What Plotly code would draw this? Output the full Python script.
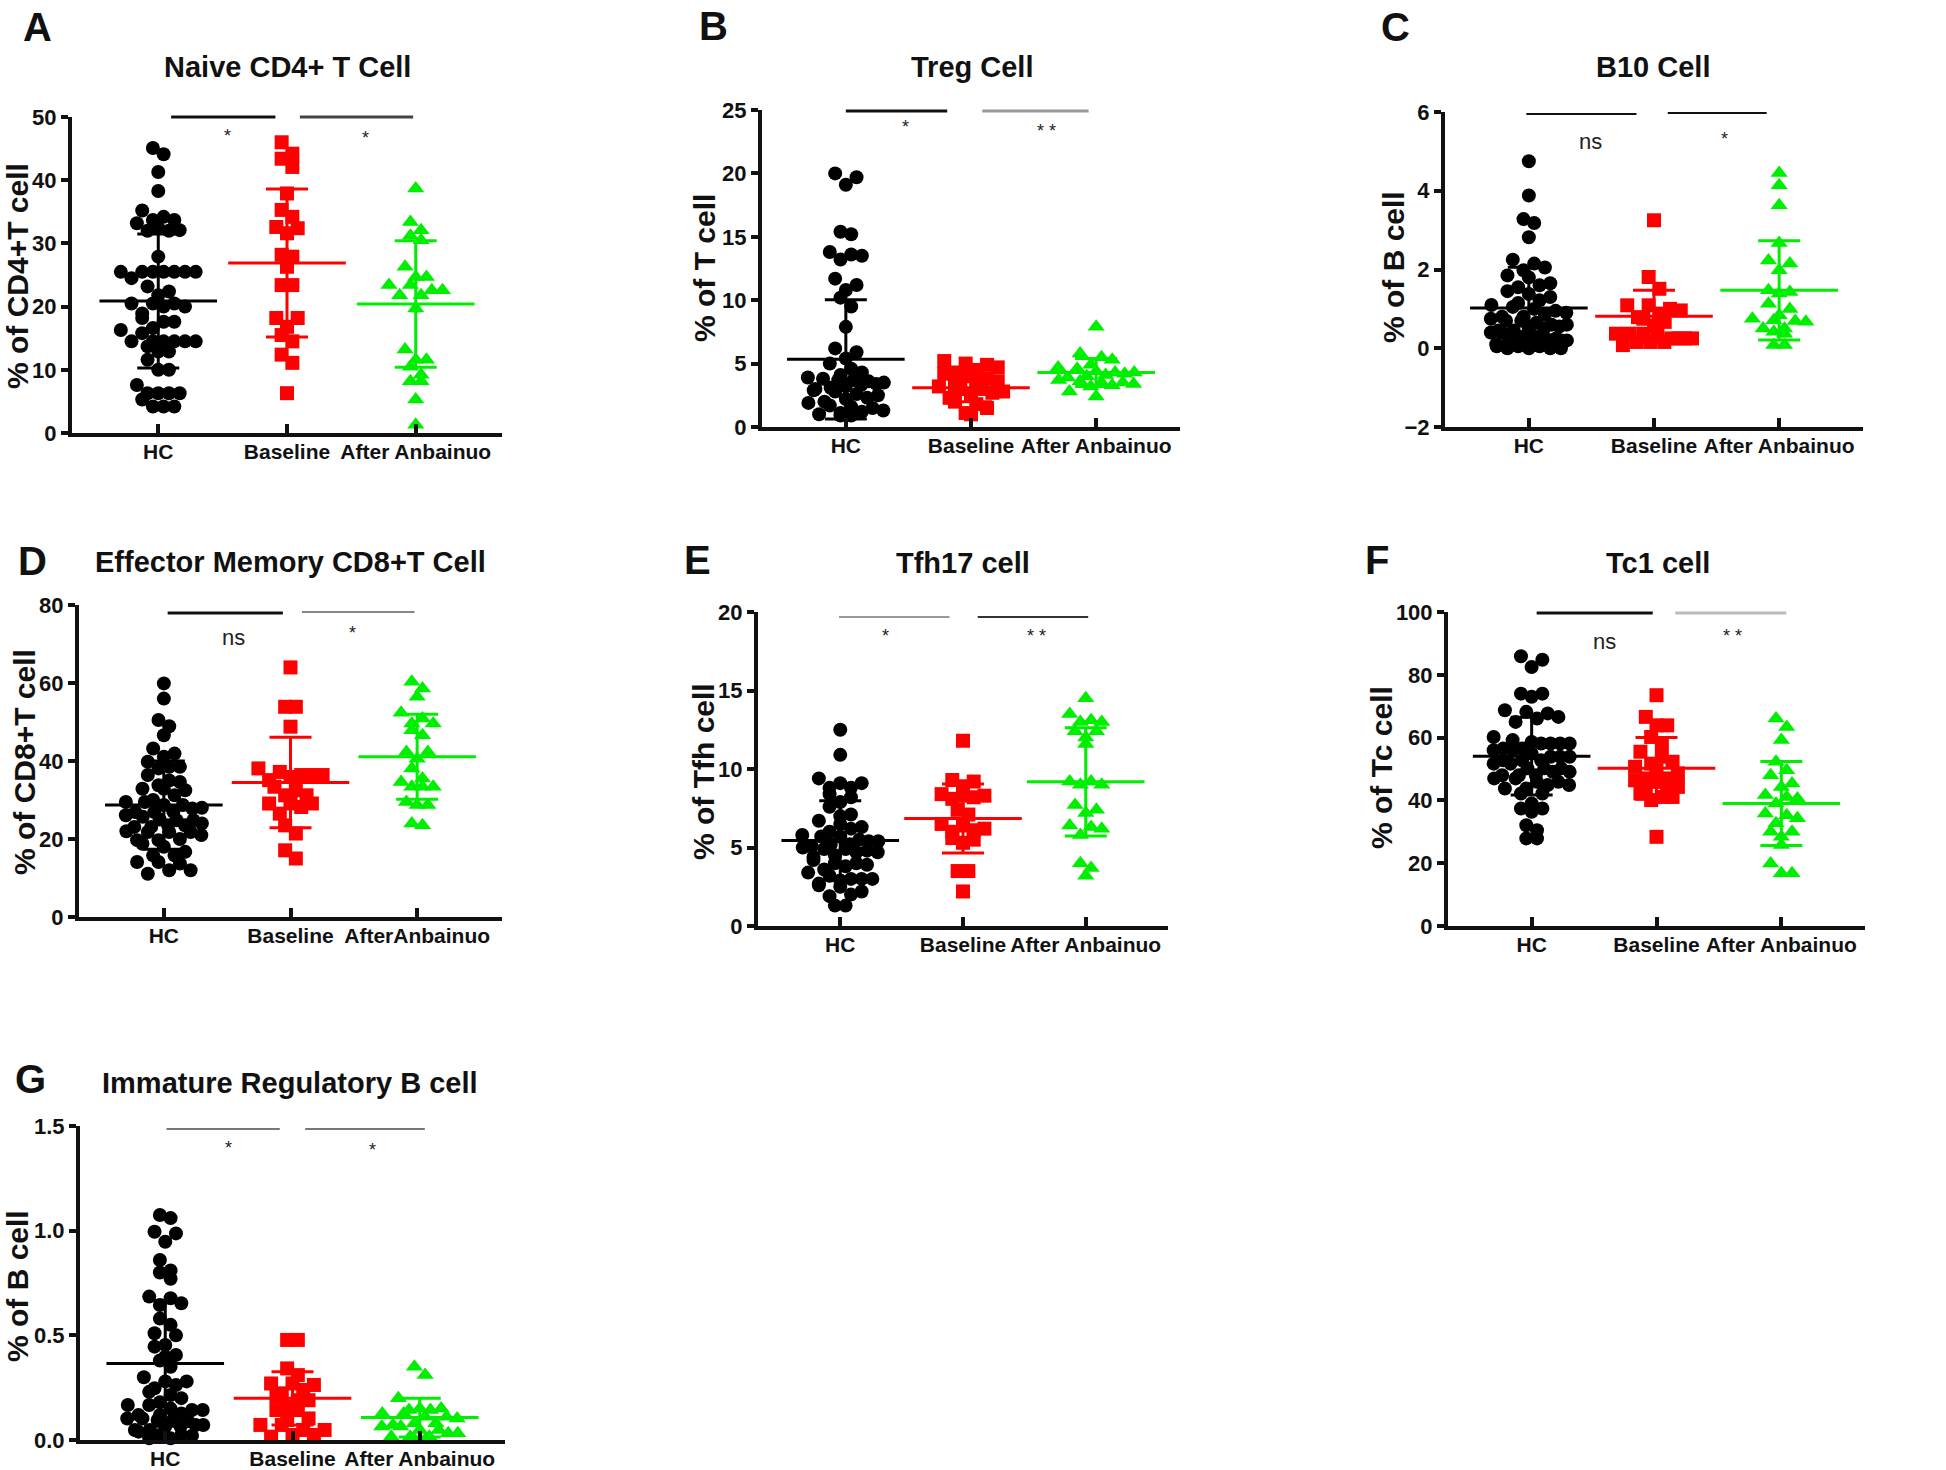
import numpy as np
import plotly.graph_objects as go

W, H = 1946, 1470
FONT = "Liberation Sans, Arial, Helvetica, sans-serif"

CATS = ["HC", "Baseline", "After Anbainuo"]
CATS_D = ["HC", "Baseline", "AfterAnbainuo"]
COLORS = ["#000000", "#ff0000", "#00ee00"]
SYMBOLS = ["circle", "square", "triangle-up"]
SIZES = [14, 14, 15]

# ---------------- data ----------------
A_HC = [45.1, 44.1, 41.3, 38.3, 35.2, 33.7, 33.7, 34.2, 33.2, 32.1, 32.0, 32.5, 32.0, 27.9,
        25.5, 25.5, 25.5, 25.5, 25.5, 25.5, 25.5, 24.5, 23.2, 22.4, 21.8, 20.5, 20.5, 20.5,
        20.0, 20.0, 18.9, 18.2, 17.6, 17.6, 16.6, 16.3, 15.8, 14.5, 14.5, 14.5, 14.5, 14.5,
        14.5, 13.7, 12.9, 12.9, 11.6, 10.0, 10.0, 7.6, 6.3, 6.3, 6.3, 6.3, 5.3, 4.2, 4.2, 4.2]
A_BASE = [46.0, 44.2, 43.4, 42.1, 37.9, 35.3, 34.2, 32.6, 32.4, 31.6, 28.2, 27.9, 26.3, 23.4,
          23.4, 18.2, 18.2, 16.8, 15.5, 14.5, 12.4, 11.1, 6.3]
A_AFTER = [38.7, 33.4, 32.1, 31.2, 30.5, 26.3, 24.7, 24.7, 23.4, 23.4, 22.6, 22.6, 21.8, 21.8,
           19.7, 13.2, 11.6, 11.6, 10.5, 9.2, 8.2, 8.2, 5.3, 1.3]
A_MEAN = [20.9, 26.9, 20.4]
A_SD = [10.6, 11.7, 10.0]

B_HC = [20.0, 19.7, 19.1, 15.4, 15.2, 13.8, 13.6, 13.5, 13.2, 11.7, 11.2, 10.8, 10.2, 9.5, 7.9,
        6.2, 5.9, 5.4, 5.0, 4.6, 4.3, 4.1, 3.9, 3.8, 3.7, 3.7, 3.6, 3.5, 3.4, 3.3, 3.2, 3.1, 3.0,
        2.9, 2.8, 2.6, 2.5, 2.3, 2.2, 2.0, 1.9, 1.7, 1.6, 1.5, 1.3, 1.2, 1.1, 1.0, 0.9, 0.9]
B_BASE = [5.2, 5.0, 4.9, 4.7, 4.5, 4.3, 4.2, 4.0, 3.8, 3.6, 3.5, 3.3, 3.2, 3.0, 3.0, 2.8, 2.7,
          2.5, 2.3, 2.0, 1.8, 1.5, 1.1, 1.0]
B_AFTER = [7.9, 5.8, 5.5, 5.3, 4.9, 4.7, 4.6, 4.4, 4.3, 4.3, 4.2, 4.1, 4.0, 3.9, 3.7, 3.5, 3.5,
           3.4, 3.3, 3.2, 2.8, 2.4, 3.6]
B_MEAN = [5.34, 3.1, 4.3]
B_SD = [4.7, 1.1, 1.1]

C_HC = [4.75, 3.88, 3.28, 3.18, 2.82, 2.25, 2.15, 2.05, 1.98, 1.85, 1.8, 1.65, 1.6, 1.55, 1.45,
        1.38, 1.3, 1.22, 1.15, 1.1, 1.05, 1.0, 0.95, 0.9, 0.85, 0.8, 0.8, 0.75, 0.7, 0.7, 0.65,
        0.6, 0.6, 0.55, 0.5, 0.5, 0.45, 0.45, 0.4, 0.4, 0.35, 0.3, 0.3, 0.25, 0.25, 0.2, 0.2,
        0.2, 0.15, 0.15, 0.1, 0.1, 0.1, 0.05, 0.05, 0.05, 0.0, 0.0, 0.0, 0.0]
C_BASE = [3.25, 1.81, 1.51, 1.09, 1.09, 1.0, 0.96, 0.88, 0.79, 0.75, 0.67, 0.58, 0.37, 0.37,
          0.37, 0.37, 0.25, 0.25, 0.25, 0.25, 0.16, 0.16, 0.16, 0.08]
C_AFTER = [4.45, 4.14, 3.63, 2.67, 2.23, 2.15, 1.98, 1.47, 1.43, 1.39, 1.13, 1.0, 0.84, 0.75,
           0.71, 0.69, 0.67, 0.5, 0.5, 0.42, 0.37, 0.08, 0.08]
C_MEAN = [1.02, 0.81, 1.47]
C_SD = [1.04, 0.66, 1.26]

D_HC = [59.9, 56.0, 50.5, 48.9, 46.6, 43.2, 41.9, 41.1, 39.8, 38.5, 38.5, 38.1, 36.4, 34.6,
        33.8, 32.9, 32.9, 32.5, 31.2, 29.5, 29.5, 28.7, 28.7, 27.8, 26.9, 26.9, 26.1, 25.7, 24.8,
        24.8, 23.5, 23.5, 23.1, 23.1, 21.8, 21.8, 21.8, 21.0, 19.7, 19.7, 18.8, 18.0, 16.7, 15.8,
        15.8, 14.1, 14.1, 13.7, 12.0, 12.0, 11.1, 28.0, 27.0, 25.0, 22.0, 20.0, 30.0, 35.0, 24.0]
D_BASE = [64.0, 53.9, 53.9, 48.8, 38.1, 37.2, 36.4, 36.4, 36.4, 35.9, 35.1, 33.4, 32.5, 31.2,
          31.2, 29.1, 29.1, 29.1, 28.2, 26.5, 23.5, 21.4, 17.1, 15.0]
D_AFTER = [60.3, 58.6, 56.5, 52.4, 50.9, 49.6, 49.6, 47.9, 46.6, 42.3, 42.3, 40.6, 38.1, 35.5,
           34.6, 33.4, 33.4, 33.4, 29.5, 28.7, 28.7, 24.0, 23.5]
D_MEAN = [28.7, 34.5, 41.1]
D_SD = [11.3, 11.6, 10.9]

E_HC = [12.5, 10.9, 9.4, 9.1, 9.1, 8.8, 8.8, 8.4, 8.2, 7.9, 7.6, 7.1, 7.0, 6.7, 6.5, 6.0, 5.8,
        5.7, 5.7, 5.4, 5.4, 5.2, 5.2, 4.9, 4.9, 4.7, 4.7, 4.5, 4.2, 4.0, 4.0, 3.9, 3.6, 3.4, 3.0,
        3.0, 3.0, 2.9, 2.7, 2.5, 2.2, 1.9, 1.3, 1.3, 5.0, 5.5, 4.8, 6.2, 3.2, 3.8, 2.0, 4.4, 5.1,
        6.3, 2.6]
E_BASE = [11.8, 9.3, 9.2, 8.9, 8.4, 8.3, 8.3, 8.2, 8.1, 7.4, 7.1, 6.5, 6.4, 6.2, 6.1, 6.0, 5.6,
          5.5, 5.3, 3.5, 3.5, 2.2]
E_AFTER = [14.5, 13.5, 13.1, 13.0, 13.0, 12.4, 12.4, 12.0, 11.6, 9.2, 9.2, 9.0, 9.0, 7.7, 7.4,
           7.2, 6.4, 6.3, 6.2, 5.8, 4.0, 3.7, 3.2]
E_MEAN = [5.45, 6.85, 9.18]
E_SD = [2.52, 2.2, 3.45]

F_HC = [85.9, 84.8, 82.5, 74.0, 74.0, 73.0, 68.7, 68.2, 67.7, 66.1, 66.6, 65.0, 60.2, 59.2, 58.6,
        58.1, 58.1, 58.1, 58.1, 56.5, 56.5, 56.0, 56.0, 54.9, 53.9, 53.9, 53.9, 52.8, 52.8, 52.8,
        51.7, 51.7, 50.2, 50.2, 50.2, 49.1, 49.1, 48.0, 48.0, 48.0, 47.0, 47.0, 45.9, 45.9, 44.9,
        44.9, 43.8, 43.8, 42.2, 42.2, 39.0, 37.4, 37.4, 36.4, 32.1, 30.5, 27.9, 27.9]
F_BASE = [73.5, 66.6, 63.9, 63.9, 60.2, 58.1, 55.5, 53.9, 52.3, 51.7, 50.7, 49.6, 48.6, 47.0,
          47.0, 46.4, 45.9, 44.3, 43.8, 43.8, 42.2, 41.1, 41.1, 40.1, 28.4]
F_AFTER = [66.1, 63.4, 59.2, 52.3, 49.6, 48.0, 45.4, 44.3, 41.7, 41.1, 40.6, 39.0, 35.8, 35.3,
           34.3, 32.7, 30.0, 30.0, 28.4, 25.8, 19.9, 16.8, 16.8]
F_MEAN = [54.1, 50.2, 39.0]
F_SD = [12.4, 9.8, 13.4]

G_HC = [1.075, 1.06, 0.995, 0.987, 0.947, 0.86, 0.81, 0.80, 0.77, 0.685, 0.677, 0.653, 0.645,
        0.58, 0.55, 0.51, 0.50, 0.454, 0.446, 0.406, 0.398, 0.38, 0.35, 0.28, 0.28, 0.263, 0.247,
        0.23, 0.215, 0.2, 0.18, 0.167, 0.167, 0.143, 0.143, 0.127, 0.12, 0.12, 0.103, 0.103,
        0.096, 0.096, 0.072, 0.072, 0.064, 0.064, 0.048, 0.048, 0.024, 0.024, 0.008, 0.008, 0.3,
        0.15, 0.09, 0.02, 0.04]
G_BASE = [0.478, 0.478, 0.342, 0.31, 0.263, 0.27, 0.27, 0.223, 0.239, 0.207, 0.19, 0.19, 0.16,
          0.143, 0.143, 0.103, 0.096, 0.072, 0.072, 0.048, 0.048, 0.024, 0.024, 0.016]
G_AFTER = [0.35, 0.31, 0.2, 0.151, 0.151, 0.143, 0.143, 0.127, 0.127, 0.111, 0.111, 0.103, 0.08,
           0.08, 0.072, 0.064, 0.064, 0.048, 0.048, 0.032, 0.032, 0.016, 0.016, 0.016, 0.0, 0.0]
G_MEAN = [0.366, 0.199, 0.107]
G_SD = [0.30, 0.127, 0.093]

# significance: (x0, x1, text_x, label, color, width, line_dy_px, text_dy_px)
PANELS = [
    dict(letter="A", title="Naive CD4+ T Cell", ylabel="% of CD4+T cell",
         data=[A_HC, A_BASE, A_AFTER], mean=A_MEAN, sd=A_SD, yr=[0, 50], dt=10, fmt="",
         px=(72, 502), py=(117, 433), tl=(287, 67), lt=(37, 27), yl=(17, 276), cats=CATS,
         sig=[(0.10, 0.91, 0.54, "*", "#111111", 3, 0, 19), (1.10, 1.98, 1.61, "*", "#444444", 3, 0, 21)]),
    dict(letter="B", title="Treg Cell", ylabel="% of T cell",
         data=[B_HC, B_BASE, B_AFTER], mean=B_MEAN, sd=B_SD, yr=[0, 25], dt=5, fmt="",
         px=(762, 1180), py=(110, 427), tl=(972, 67), lt=(713, 26), yl=(704, 268), cats=CATS,
         sig=[(0.0, 0.81, 0.48, "*", "#111111", 3, 1, 16), (1.09, 1.94, 1.60, "* *", "#999999", 3, 1, 20)]),
    dict(letter="C", title="B10 Cell", ylabel="% of B cell",
         data=[C_HC, C_BASE, C_AFTER], mean=C_MEAN, sd=C_SD, yr=[-2, 6], dt=2, fmt="",
         px=(1445, 1863), py=(112, 427), tl=(1653, 67), lt=(1395, 27), yl=(1394, 267), cats=CATS,
         sig=[(-0.02, 0.86, 0.49, "ns", "#111111", 2, 2, 28), (1.11, 1.90, 1.56, "*", "#111111", 2, 1, 26)]),
    dict(letter="D", title="Effector Memory CD8+T Cell", ylabel="% of CD8+T cell",
         data=[D_HC, D_BASE, D_AFTER], mean=D_MEAN, sd=D_SD, yr=[0, 80], dt=20, fmt="",
         px=(79, 502), py=(605, 917), tl=(290, 562), lt=(32, 561), yl=(24, 762), cats=CATS_D,
         sig=[(0.03, 0.94, 0.55, "ns", "#111111", 3, 8, 25), (1.09, 1.98, 1.49, "*", "#888888", 2, 7, 21)]),
    dict(letter="E", title="Tfh17 cell", ylabel="% of Tfh cell",
         data=[E_HC, E_BASE, E_AFTER], mean=E_MEAN, sd=E_SD, yr=[0, 20], dt=5, fmt="",
         px=(758, 1168), py=(612, 926), tl=(963, 563), lt=(697, 560), yl=(703, 772), cats=CATS,
         sig=[(-0.01, 0.89, 0.37, "*", "#999999", 2, 5, 19), (1.12, 2.02, 1.60, "* *", "#333333", 2, 5, 19)]),
    dict(letter="F", title="Tc1 cell", ylabel="% of Tc cell",
         data=[F_HC, F_BASE, F_AFTER], mean=F_MEAN, sd=F_SD, yr=[0, 100], dt=20, fmt="",
         px=(1448, 1865), py=(612, 926), tl=(1658, 563), lt=(1377, 560), yl=(1381, 768), cats=CATS,
         sig=[(0.04, 0.97, 0.58, "ns", "#111111", 3, 1, 28), (1.15, 2.04, 1.61, "* *", "#bbbbbb", 3, 1, 23)]),
    dict(letter="G", title="Immature Regulatory B cell", ylabel="% of B cell",
         data=[G_HC, G_BASE, G_AFTER], mean=G_MEAN, sd=G_SD, yr=[0, 1.5], dt=0.5, fmt=".1f",
         px=(80, 505), py=(1126, 1440), tl=(290, 1083), lt=(30, 1079), yl=(17, 1286), cats=CATS,
         sig=[(0.01, 0.90, 0.50, "*", "#777777", 2, 3, 19), (1.10, 2.04, 1.63, "*", "#777777", 2, 3, 21)]),
]

XR = [-0.67, 2.67]
BIN_H = 12.0     # px height of a row of points
STEP = 10.7      # px spacing between neighbours in a row
MAX_HALF = 38.0  # px max half-width of a row (Prism-like compression)


def pxx(px):
    return px / W


def pyy(py):
    return 1 - py / H


def prism_scatter(vals, ppu_y, ppu_x):
    """Prism-style column scatter: rows of near-equal values spread horizontally."""
    vals = np.asarray(vals, dtype=float)
    order = list(np.argsort(-vals, kind="stable"))
    xs = np.zeros(len(vals))
    rows, cur, top = [], [], None
    for i in order:
        y = vals[i] * ppu_y
        if top is None or top - y > BIN_H:
            if cur:
                rows.append(cur)
            cur, top = [i], y
        else:
            cur.append(i)
    if cur:
        rows.append(cur)
    for row in rows:
        n = len(row)
        if n == 1:
            continue
        step = min(STEP, 2 * MAX_HALF / (n - 1))
        seq = []
        lo, hi = 0, n - 1
        while lo <= hi:
            seq.append(row[lo]); lo += 1
            if lo <= hi:
                seq.append(row[hi]); hi -= 1
        for k, idx in enumerate(seq):
            xs[idx] = (k - (n - 1) / 2) * step / ppu_x
    return xs


fig = go.Figure()
layout = dict(width=W, height=H, margin=dict(l=0, r=0, t=0, b=0, autoexpand=False),
              paper_bgcolor="white", plot_bgcolor="white", showlegend=False,
              font=dict(family=FONT, color="#111111"))
shapes, annotations = [], []

for n, p in enumerate(PANELS, start=1):
    xa = "x" if n == 1 else f"x{n}"
    ya = "y" if n == 1 else f"y{n}"
    xk = "xaxis" if n == 1 else f"xaxis{n}"
    yk = "yaxis" if n == 1 else f"yaxis{n}"
    (x0, x1), (y0, y1) = p["px"], p["py"]
    ppu_x = (x1 - x0) / (XR[1] - XR[0])
    ppu_y = (y1 - y0) / (p["yr"][1] - p["yr"][0])

    for g, vals in enumerate(p["data"]):
        off = prism_scatter(vals, ppu_y, ppu_x)
        fig.add_trace(go.Scatter(
            x=g + off, y=vals, mode="markers", xaxis=xa, yaxis=ya, cliponaxis=False,
            marker=dict(symbol=SYMBOLS[g], size=SIZES[g], color=COLORS[g], line=dict(width=0)),
            hoverinfo="y"))
    for g in range(3):
        fig.add_trace(go.Scatter(
            x=[g], y=[p["mean"][g]], mode="markers", xaxis=xa, yaxis=ya, cliponaxis=False,
            marker=dict(symbol="line-ew", size=84, color=COLORS[g],
                        line=dict(width=3, color=COLORS[g])),
            error_y=dict(type="data", array=[p["sd"][g]], visible=True, width=21,
                         thickness=3, color=COLORS[g]),
            hoverinfo="y"))

    nt = int(round((p["yr"][1] - p["yr"][0]) / p["dt"]))
    tv = [p["yr"][0] + i * p["dt"] for i in range(nt + 1)]
    layout[xk] = dict(domain=[pxx(x0), pxx(x1)], range=XR, anchor=ya, showline=True,
                      linewidth=4, linecolor="#111111", ticks="inside", ticklen=9,
                      tickwidth=4, tickcolor="#111111", tickvals=[0, 1, 2], ticktext=p["cats"],
                      ticklabelstandoff=-3, automargin=False,
                      tickfont=dict(size=21, family=FONT, weight="bold", color="#111111"),
                      showgrid=False, zeroline=False, fixedrange=True)
    layout[yk] = dict(domain=[pyy(y1), pyy(y0)], range=p["yr"], anchor=xa, showline=True,
                      linewidth=4, linecolor="#111111", ticks="outside", ticklen=7,
                      tickwidth=4, tickcolor="#111111", tickvals=tv, tickformat=p["fmt"],
                      automargin=False,
                      tickfont=dict(size=22, family=FONT, weight="bold", color="#111111"),
                      showgrid=False, zeroline=False, fixedrange=True)

    annotations.append(dict(text=p["title"], x=pxx(p["tl"][0]), y=pyy(p["tl"][1]),
                            xref="paper", yref="paper", showarrow=False,
                            xanchor="center", yanchor="middle",
                            font=dict(size=29, family=FONT, weight="bold", color="#111111")))
    annotations.append(dict(text=p["letter"], x=pxx(p["lt"][0]), y=pyy(p["lt"][1]),
                            xref="paper", yref="paper", showarrow=False,
                            xanchor="center", yanchor="middle",
                            font=dict(size=40, family=FONT, weight="bold", color="#111111")))
    annotations.append(dict(text=p["ylabel"], x=pxx(p["yl"][0]), y=pyy(p["yl"][1]),
                            xref="paper", yref="paper", showarrow=False, textangle=-90,
                            xanchor="center", yanchor="middle",
                            font=dict(size=30, family=FONT, weight="bold", color="#111111")))
    for (sx0, sx1, tx, lab, col, lw, ldy, tdy) in p["sig"]:
        ly = y0 + ldy
        shapes.append(dict(type="line", xref=xa, yref="paper", x0=sx0, x1=sx1,
                           y0=pyy(ly), y1=pyy(ly), line=dict(color=col, width=lw)))
        is_ns = lab == "ns"
        annotations.append(dict(text=lab, x=tx, y=pyy(ly + tdy), xref=xa, yref="paper",
                                showarrow=False, xanchor="center", yanchor="middle",
                                font=dict(size=22 if is_ns else 18, family=FONT,
                                          color="#222222")))

layout["shapes"] = shapes
layout["annotations"] = annotations
fig.update_layout(**layout)
fig.write_html("out.html", config={"displayModeBar": False},
               post_script="document.body.style.margin='0';document.body.style.overflow='hidden';")
